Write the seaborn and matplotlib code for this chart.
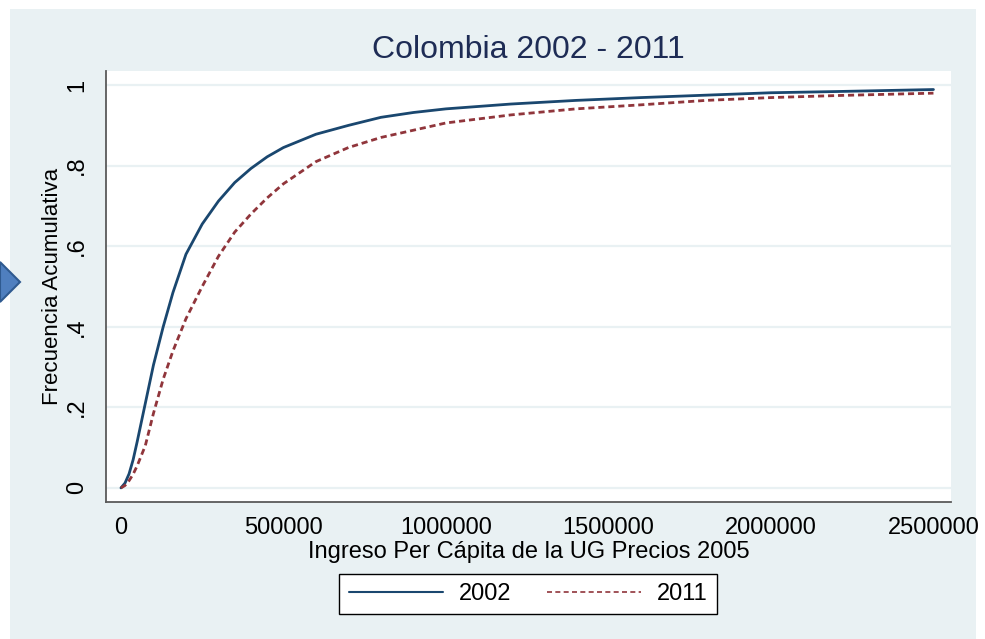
import numpy as np
import pandas as pd
import matplotlib
matplotlib.use('Agg')
import matplotlib.pyplot as plt
import seaborn as sns
from matplotlib.patches import Rectangle, Polygon
from matplotlib.lines import Line2D

# values
ingreso = [0, 12500, 25000, 37500, 50000, 75000, 100000, 130000, 160000, 200000, 250000,
           300000, 350000, 400000, 450000, 500000, 600000, 700000, 800000, 900000,
           1000000, 1200000, 1400000, 1600000, 1800000, 2000000, 2200000, 2500000]
frec_2002 = [0, 0.012, 0.035, 0.07, 0.115, 0.21, 0.305, 0.40, 0.485, 0.58, 0.655,
             0.712, 0.758, 0.793, 0.822, 0.845, 0.878, 0.900, 0.920, 0.932,
             0.941, 0.953, 0.962, 0.969, 0.975, 0.981, 0.984, 0.989]
frec_2011 = [0, 0.006, 0.018, 0.034, 0.055, 0.105, 0.185, 0.27, 0.34, 0.42, 0.50,
             0.575, 0.635, 0.68, 0.72, 0.755, 0.81, 0.845, 0.87, 0.888,
             0.906, 0.926, 0.941, 0.951, 0.962, 0.969, 0.974, 0.980]
years = ['2002', '2011']
y_ticks = [0, 0.2, 0.4, 0.6, 0.8, 1]
y_labels = ['0', '.2', '.4', '.6', '.8', '1']
x_ticks = [0, 500000, 1000000, 1500000, 2000000, 2500000]

df = pd.concat([
    pd.DataFrame({'ingreso': ingreso, 'frec': frec_2002, 'year': '2002'}),
    pd.DataFrame({'ingreso': ingreso, 'frec': frec_2011, 'year': '2011'}),
])

bg = '#e9f1f3'
navy = '#1a476f'
maroon = '#90353b'

sns.set_style('white')
plt.rcParams['font.family'] = ['Liberation Sans', 'DejaVu Sans']
plt.rcParams['text.color'] = 'black'
plt.rcParams['axes.labelcolor'] = 'black'

fig = plt.figure(figsize=(9.85, 6.39), dpi=100)
fig.patch.set_facecolor('white')
fig.patches.append(Rectangle((10 / 985, 0), 966 / 985, 630 / 639, transform=fig.transFigure,
                             facecolor=bg, edgecolor='none', zorder=-5))
fig.patches.append(Polygon([(0, 1 - 262 / 639), (20 / 985, 1 - 282 / 639), (0, 1 - 302 / 639)],
                           closed=True, transform=fig.transFigure, facecolor='#4f7fbf',
                           edgecolor='#2f5a90', linewidth=1.5, zorder=-4))

ax = fig.add_axes([106 / 985, 1 - 502 / 639, 845 / 985, 431 / 639])
ax.set_facecolor('white')

sns.lineplot(data=df, x='ingreso', y='frec', hue='year', style='year',
             palette=[navy, maroon], dashes={'2002': '', '2011': (2.2, 1.4)},
             linewidth=2.0, ax=ax, legend=False)

ax.set_xlim(-46000, 2554000)
ax.set_ylim(-0.035, 1.035)
ax.set_yticks(y_ticks)
ax.set_yticklabels(y_labels)
ax.set_xticks(x_ticks)
ax.set_xticklabels([str(v) for v in x_ticks])
ax.grid(axis='y', color=bg, linewidth=1.6)
ax.set_axisbelow(True)

for s in ['top', 'right']:
    ax.spines[s].set_visible(False)
for s in ['left', 'bottom']:
    ax.spines[s].set_color('#5a5a5a')
    ax.spines[s].set_linewidth(1.3)

ax.tick_params(axis='both', direction='out', length=7, width=1, color='#5a5a5a',
               labelsize=17, labelcolor='black')
ax.tick_params(axis='y', pad=6, labelrotation=90)
ax.tick_params(axis='x', pad=4)
for t in ax.get_yticklabels():
    t.set_va('center')

ax.set_xlabel('Ingreso Per Cápita de la UG Precios 2005', fontsize=17, labelpad=1)
ax.set_ylabel('Frecuencia Acumulativa', fontsize=16, labelpad=2)
ax.set_title('Colombia 2002 - 2011', fontsize=23, color='#1e2c55', pad=9)

handles = [Line2D([], [], color=navy, lw=1.5),
           Line2D([], [], color=maroon, lw=1.2, ls=(0, (3, 2)))]
leg = fig.legend(handles, years, loc='center', bbox_to_anchor=(528 / 985, 1 - 594 / 639),
                 ncol=2, fontsize=17, frameon=True, fancybox=False, handlelength=4.0,
                 handletextpad=0.65, columnspacing=1.5, borderpad=0.4, framealpha=1)
leg.get_frame().set_edgecolor('black')
leg.get_frame().set_linewidth(1)
leg.get_frame().set_facecolor('white')

fig.savefig('out.png', dpi=100, facecolor=fig.get_facecolor())
